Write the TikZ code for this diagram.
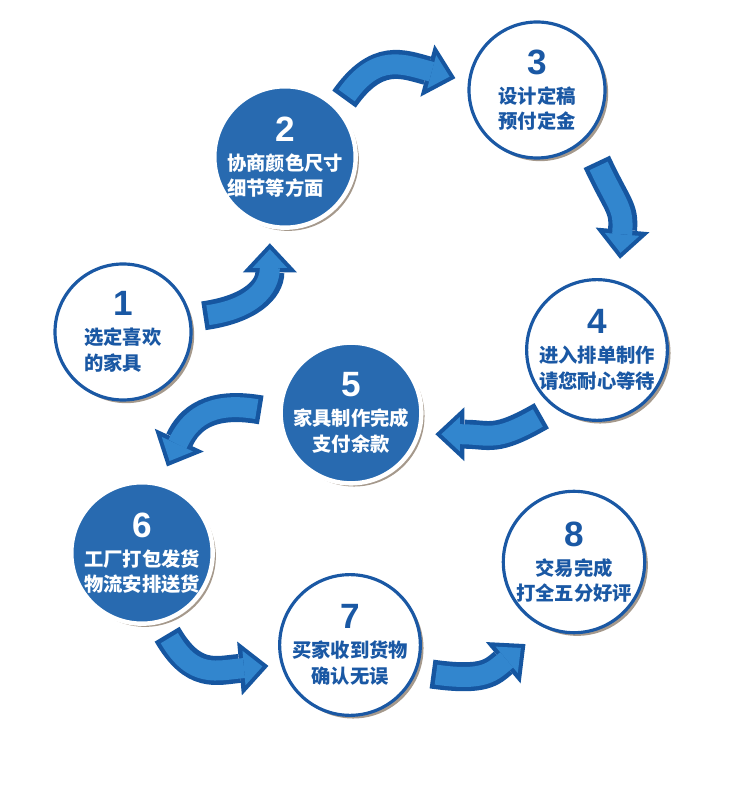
\documentclass[tikz,border=0pt]{standalone}
\usepackage{fontspec}
\newfontfamily\cjk{Noto Sans CJK SC}
\newfontfamily\numfont{Liberation Sans}
\usetikzlibrary{arrows.meta,shadows}
\definecolor{stepblue}{RGB}{40,106,176}
\definecolor{textblue}{RGB}{26,88,164}
\definecolor{arrowdark}{RGB}{22,86,160}
\definecolor{arrowlight}{RGB}{50,134,206}
\newcommand{\stepnum}[1]{{\numfont\bfseries\fontsize{20}{20}\selectfont #1}}

\tikzset{
  stage/.style={circle, minimum size=2.72cm, inner sep=0pt, align=center,
    font=\cjk\bfseries\fontsize{11}{14.5}\selectfont,
    drop shadow={shadow xshift=1.8pt, shadow yshift=-1.8pt, opacity=0.5, fill=black!60!brown}},
  whitestage/.style={stage, fill=white, draw=textblue, line width=1.8pt, text=textblue},
  bluestage/.style={stage, fill=stepblue, draw=white, line width=2.5pt, text=white},
  flowout/.style={draw=arrowdark, line width=0.58cm, looseness=1.3,
    -{Triangle[length=0.58cm, width=1.08cm, line width=0pt]}},
  flowin/.style={draw=arrowlight, line width=0.40cm, looseness=1.3,
    -{Triangle[length=0.37cm, width=0.69cm, line width=0pt]}}
}

\begin{document}
\begin{tikzpicture}
  \useasboundingbox (0,0) rectangle (15,15.72);

  % stages
  \node[whitestage] (c1) at (2.46,9.08) {\stepnum{1}\\[2pt] 选定喜欢\\ \makebox[4em][l]{的家具}};
  \node[bluestage] (c2) at (5.70,12.58) {\stepnum{2}\\[2pt] 协商颜色尺寸\\ \makebox[6em][l]{细节等方面}};
  \node[whitestage] (c3) at (10.74,13.92) {\stepnum{3}\\[2pt] 设计定稿\\ 预付定金};
  \node[whitestage] (c4) at (11.94,8.72) {\stepnum{4}\\[2pt] 进入排单制作\\ 请您耐心等待};
  \node[bluestage] (c5) at (7.02,7.46) {\stepnum{5}\\[2pt] 家具制作完成\\ 支付余款};
  \node[bluestage] (c6) at (2.84,4.66) {\stepnum{6}\\[2pt] 工厂打包发货\\ 物流安排送货};
  \node[whitestage] (c7) at (7.00,2.82) {\stepnum{7}\\[2pt] 买家收到货物\\ 确认无误};
  \node[whitestage] (c8) at (11.48,4.48) {\stepnum{8}\\[2pt] 交易完成\\ 打全五分好评};

  % curved arrows between stages
  \foreach \from/\to/\o/\i/\s/\e in {
      c1.12/c2.-102/8/-90/0.25/0.30,
      c2.43/c3.173/55/165/0.20/0.26,
      c3.-45/c4.73/-65/85/0.50/0.45,
      c4.-126/c5.-17/-150/0/0.30/0.30,
      c5.180/c6.76/170/65/0.35/0.35,
      c6.-75/c7.196/-60/185/0.25/0.25,
      c7.-22/c8.-114/-8/220/0.30/0.50}
  {
    \pgfmathsetmacro\si{\s+0.09}
    \pgfmathsetmacro\ei{\e+0.12}
    \draw[flowout, shorten <=\s cm, shorten >=\e cm] (\from) to[out=\o, in=\i] (\to);
    \draw[flowin, shorten <=\si cm, shorten >=\ei cm] (\from) to[out=\o, in=\i] (\to);
  }
\end{tikzpicture}
\end{document}
